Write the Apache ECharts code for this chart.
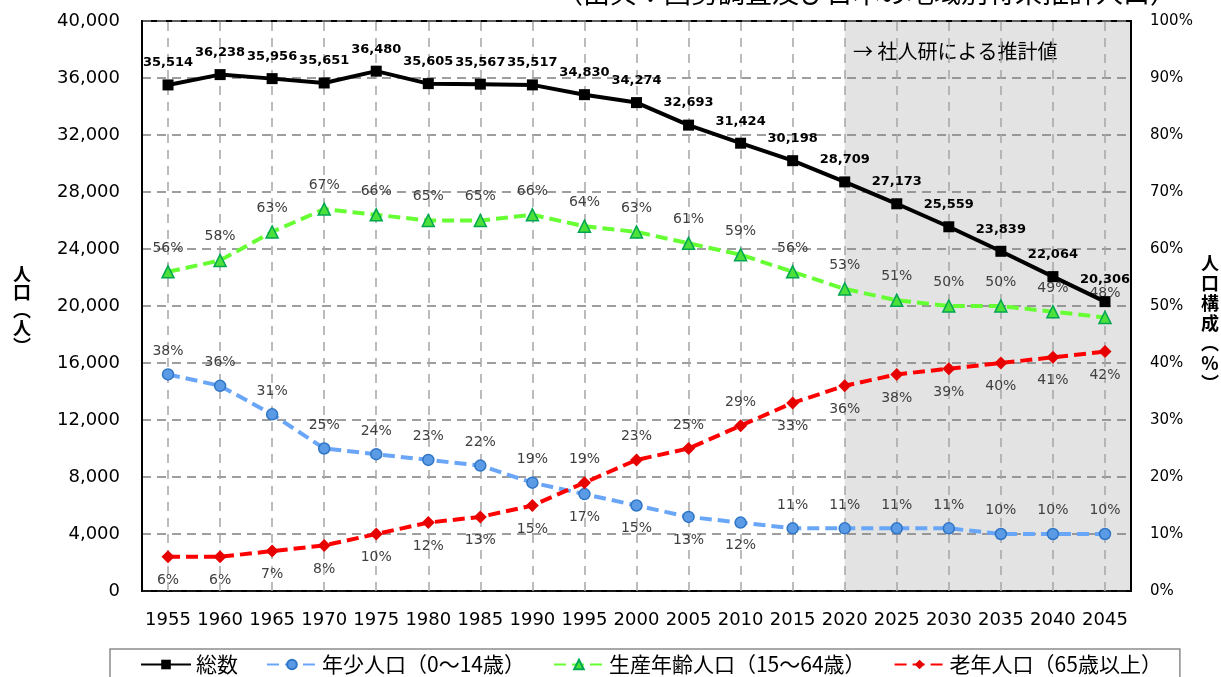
<!DOCTYPE html>
<html>
<head>
<meta charset="utf-8">
<script src="https://cdn.jsdelivr.net/npm/echarts@6/dist/echarts.min.js"></script>
<style>
  html, body { margin: 0; padding: 0; background: #fff; }
  #chart { width: 1221px; height: 677px; }
</style>
</head>
<body>
<div id="chart"></div>
<script>
// 年
const years = ['1955', '1960', '1965', '1970', '1975', '1980', '1985', '1990', '1995', '2000',
  '2005', '2010', '2015', '2020', '2025', '2030', '2035', '2040', '2045'];

// 総数（人）
const total = [35514, 36238, 35956, 35651, 36480, 35605, 35567, 35517, 34830, 34274,
  32693, 31424, 30198, 28709, 27173, 25559, 23839, 22064, 20306];

// 人口構成（%）
const youthPct = [38, 36, 31, 25, 24, 23, 22, 19, 17, 15, 13, 12, 11, 11, 11, 11, 10, 10, 10];
const workingPct = [56, 58, 63, 67, 66, 65, 65, 66, 64, 63, 61, 59, 56, 53, 51, 50, 50, 49, 48];
const elderlyPct = [6, 6, 7, 8, 10, 12, 13, 15, 19, 23, 25, 29, 33, 36, 38, 39, 40, 41, 42];

const seriesNames = ['総数', '年少人口（0～14歳）', '生産年齢人口（15～64歳）', '老年人口（65歳以上）'];
const estimateFrom = '2020';

const numFont = 'DejaVu Sans';
const jpFont = 'Noto Sans CJK JP';

// 1995〜2010 は年少が下、老年が上にラベル
const isMiddle = i => i >= 8 && i <= 11;

const pctLabel = {
  show: true,
  fontFamily: numFont,
  fontSize: 14,
  color: '#404040',
  distance: 10,
  formatter: p => p.value + '%'
};

const chart = echarts.init(document.getElementById('chart'));

chart.setOption({
  animation: false,
  backgroundColor: '#fff',
  grid: {
    left: 142, right: 90, top: 21, bottom: 86,
    show: true, borderColor: '#000', borderWidth: 2
  },
  legend: {
    data: seriesNames,
    left: 110, top: 649,
    padding: [5, 18, 12, 30],
    itemGap: 28,
    itemWidth: 50,
    itemHeight: 12,
    borderColor: '#8c8c8c',
    borderWidth: 1.5,
    textStyle: { fontFamily: jpFont, fontSize: 21, color: '#000' }
  },
  xAxis: {
    type: 'category',
    data: years,
    boundaryGap: true,
    axisTick: { show: false },
    axisLine: { lineStyle: { color: '#000', width: 1.5 } },
    axisLabel: { interval: 0, fontFamily: numFont, fontSize: 18, color: '#000', margin: 20 },
    splitLine: { show: false }
  },
  yAxis: [
    {
      type: 'value',
      min: 0, max: 40000, interval: 4000,
      axisLine: { show: true, lineStyle: { color: '#000', width: 2 } },
      axisTick: { show: false },
      axisLabel: {
        fontFamily: numFont, fontSize: 18, color: '#000', margin: 22,
        formatter: v => v.toLocaleString('en-US')
      },
      splitLine: { lineStyle: { type: [9, 6], color: '#7f7f7f', width: 1.5 } }
    },
    {
      type: 'value',
      min: 0, max: 100, interval: 10,
      axisLine: { show: false },
      axisTick: { show: false },
      axisLabel: { fontFamily: numFont, fontSize: 15, color: '#000', margin: 19, formatter: '{value}%' },
      splitLine: { show: false }
    }
  ],
  graphic: [
    {
      type: 'text', left: 556, top: -21,
      style: { text: '（出典：国勢調査及び日本の地域別将来推計人口）', font: '27px "Noto Sans CJK JP"', fill: '#000' }
    },
    {
      type: 'text', left: 853, top: 41,
      style: { text: '→ 社人研による推計値', font: '20px "Noto Sans CJK JP"', fill: '#000' }
    },
    {
      type: 'text', x: 22, y: 265,
      style: {
        text: '人\n口\n︵\n人\n︶', font: 'bold 18px "Noto Sans CJK JP"', fill: '#000',
        textAlign: 'center', textVerticalAlign: 'top', lineHeight: 18
      }
    },
    {
      type: 'text', x: 1210, y: 253,
      style: {
        text: '人\n口\n構\n成\n︵\n%\n︶', font: 'bold 18px "Noto Sans CJK JP"', fill: '#000',
        textAlign: 'center', textVerticalAlign: 'top', lineHeight: 20
      }
    }
  ],
  series: [
    {
      name: seriesNames[0],
      type: 'line',
      yAxisIndex: 0,
      z: 4,
      data: total,
      symbol: 'rect',
      symbolSize: 11,
      lineStyle: { color: '#000', width: 4 },
      itemStyle: { color: '#000' },
      label: {
        show: true, position: 'top', distance: 10,
        fontFamily: numFont, fontSize: 13, fontWeight: 'bold', color: '#000',
        formatter: p => p.value.toLocaleString('en-US')
      },
      markArea: {
        silent: true,
        z: -1,
        itemStyle: { color: '#e3e3e3' },
        data: [[{ xAxis: estimateFrom }, {}]]
      },
      markLine: {
        silent: true,
        z: 1,
        symbol: 'none',
        label: { show: false },
        lineStyle: { type: [9, 7], color: '#a6a6a6', width: 1.5 },
        data: years.map(y => ({ xAxis: y }))
      }
    },
    {
      name: seriesNames[1],
      type: 'line',
      yAxisIndex: 1,
      data: youthPct.map((v, i) => ({ value: v, label: { position: isMiddle(i) ? 'bottom' : 'top' } })),
      symbol: 'circle',
      symbolSize: 11,
      lineStyle: { color: '#6aa6f8', width: 4, type: [12, 6] },
      itemStyle: { color: '#5b9be6', borderColor: '#2f75c5', borderWidth: 1.5 },
      label: pctLabel
    },
    {
      name: seriesNames[2],
      type: 'line',
      yAxisIndex: 1,
      data: workingPct,
      symbol: 'triangle',
      symbolSize: 12,
      lineStyle: { color: '#66ff33', width: 4, type: [12, 6] },
      itemStyle: { color: '#4be03a', borderColor: '#00a651', borderWidth: 1.5 },
      label: Object.assign({}, pctLabel, { position: 'top' })
    },
    {
      name: seriesNames[3],
      type: 'line',
      yAxisIndex: 1,
      data: elderlyPct.map((v, i) => ({ value: v, label: { position: isMiddle(i) ? 'top' : 'bottom' } })),
      symbol: 'diamond',
      symbolSize: 13,
      lineStyle: { color: '#ff0000', width: 4, type: [12, 6] },
      itemStyle: { color: '#e60000' },
      label: pctLabel
    }
  ]
});
</script>
</body>
</html>
